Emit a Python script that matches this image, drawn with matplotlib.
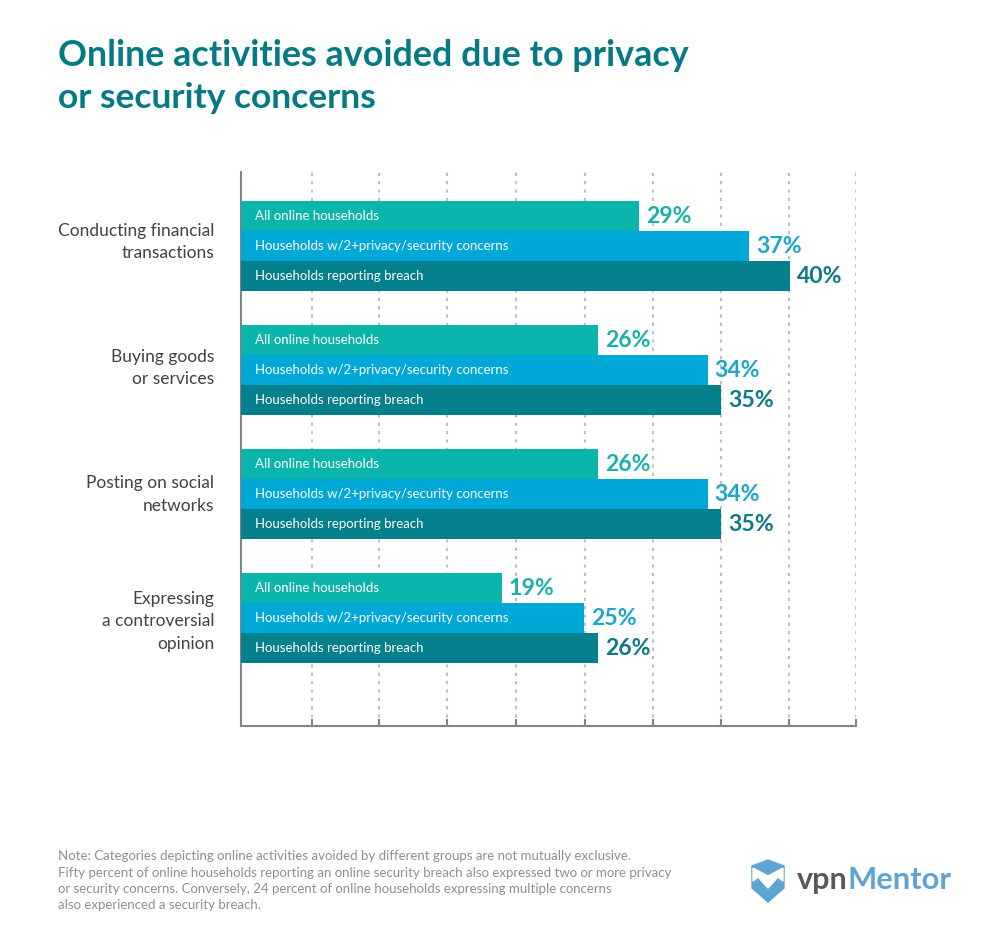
import numpy as np
import matplotlib
matplotlib.use("Agg")
import matplotlib.pyplot as plt
from matplotlib.patches import Polygon

plt.rcParams['font.family'] = ['Lato', 'DejaVu Sans']

categories = ["Conducting financial\ntransactions", "Buying goods\nor services",
              "Posting on social\nnetworks", "Expressing\na controversial\nopinion"]
series_names = ["All online households", "Households w/2+privacy/security concerns",
                "Households reporting breach"]
all_online = [29, 26, 26, 19]
two_plus = [37, 34, 34, 25]
breach = [40, 35, 35, 26]
colors = ["#0cb5ac", "#00a8d8", "#047f8c"]
label_colors = ["#1cb0aa", "#1ea6c9", "#0f7a87"]
grid_pos = [5.17, 10.05, 15, 20, 25.05, 30, 35, 39.9, 44.8]

W, H = 1001, 950
fig = plt.figure(figsize=(W / 100, H / 100), dpi=100)
ax = fig.add_axes([241 / W, 1 - 726 / H, (856 - 241) / W, (726 - 172) / H])

y = np.arange(len(categories))
bar_h = 30 / 124
for i, vals in enumerate([all_online, two_plus, breach]):
    pos = y + (i - 1) * bar_h
    ax.barh(pos, vals, height=bar_h, color=colors[i], zorder=3)
    for p, v in zip(pos, vals):
        ax.text(1.03, p + 0.004, series_names[i], color="white", fontsize=9.5,
                va="center", ha="left", zorder=4)
        ax.text(v + 0.5, p + 0.006, f"{v}%", color=label_colors[i], fontsize=16.6,
                fontweight="bold", va="center", ha="left", zorder=4)

ax.set_xlim(0, 44.8)
ax.set_ylim(3.875, -0.593)
ax.set_xticks(grid_pos)
ax.set_yticks([])
ax.set_xticklabels([])
ax.tick_params(axis="x", direction="in", length=5, width=1.5, color="#7f8589")
ax.grid(axis="x", linestyle=(0, (1.6, 2.4)), color="#c0c2c4", linewidth=1.5, zorder=1)
for s in ["top", "right"]:
    ax.spines[s].set_visible(False)
for s in ["left", "bottom"]:
    ax.spines[s].set_color("#7f8589")
    ax.spines[s].set_linewidth(1.5)

# category labels
for c, yp in zip(categories, [242, 368, 494.5, 621.5]):
    fig.text(214 / W, 1 - yp / H, c, ha="right", va="center", fontsize=12.55,
             color="#3f4246", linespacing=1.49)

fig.text(58 / W, 1 - 55 / H, "Online activities avoided due to privacy", fontsize=25.85,
         fontweight="bold", color="#047a85", va="center", ha="left")
fig.text(58 / W, 1 - 98 / H, "or security concerns", fontsize=25.5,
         fontweight="bold", color="#047a85", va="center", ha="left")

note = ["Note: Categories depicting online activities avoided by different groups are not mutually exclusive.",
        "Fifty percent of online households reporting an online security breach also expressed two or more privacy",
        "or security concerns. Conversely, 24 percent of online households expressing multiple concerns",
        "also experienced a security breach."]
for line, yp in zip(note, [856, 873, 889, 905]):
    fig.text(58 / W, 1 - yp / H, line, fontsize=9.5, color="#8c9094", va="center", ha="left")

# logo
shield = [(752, 866), (768, 860), (784, 866), (784, 888), (768, 902), (752, 888)]
m_shape = [(753, 868), (768, 876), (783, 868), (783, 881), (778, 877), (768, 888), (758, 877), (753, 881)]
fig.add_artist(Polygon([(x / W, 1 - yy / H) for x, yy in shield], closed=True,
                       transform=fig.transFigure, color="#5fa3d3"))
fig.add_artist(Polygon([(x / W, 1 - yy / H) for x, yy in m_shape], closed=True,
                       transform=fig.transFigure, color="white"))
fig.text(797 / W, 1 - 889 / H, "vpn", fontsize=22, fontweight="bold", color="#55595c", va="baseline", ha="left")
fig.text(847 / W, 1 - 889 / H, "Mentor", fontsize=22.2, fontweight="bold", color="#5fa3d3", va="baseline", ha="left")

fig.savefig("out.png", dpi=100)
